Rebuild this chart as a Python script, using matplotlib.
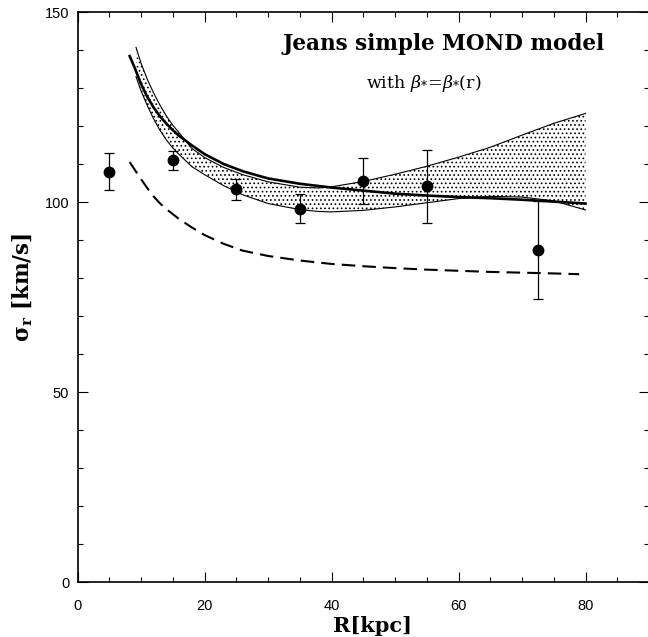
import numpy as np
import matplotlib
matplotlib.use("Agg")
import matplotlib.pyplot as plt
from matplotlib.ticker import MultipleLocator

plt.rcParams["mathtext.fontset"] = "dejavuserif"
plt.rcParams["hatch.linewidth"] = 0.7

# observed velocity dispersion profile
R_obs = [5.0, 15.0, 25.0, 35.0, 45.0, 55.0, 72.5]
sig_obs = [108.0, 111.0, 103.3, 98.2, 105.6, 104.1, 87.4]
sig_err = [4.8, 2.5, 2.8, 3.8, 6.0, 9.5, 12.8]

# best Jeans model (thick solid)
R_model = [8.2, 9, 10, 11, 12, 13, 14, 15, 16, 18, 20, 23, 26, 30, 35, 40,
           45, 50, 55, 60, 65, 70, 75, 80]
sig_model = [138.4, 135.3, 131.0, 127.6, 124.8, 122.5, 120.6, 118.9, 117.4,
             114.9, 112.6, 110.0, 108.1, 106.2, 104.8, 103.8, 103.0, 102.2,
             101.7, 101.3, 101.0, 100.6, 100.1, 99.6]

# model uncertainty band
R_band = [9.2, 10, 11, 12, 13, 14, 15, 16, 18, 20, 23, 26, 30, 35, 38, 40,
          45, 50, 55, 60, 65, 70, 75, 80]
sig_hi = [140.7, 136.5, 132.2, 128.6, 125.4, 122.6, 120.2, 118.2, 114.1,
          111.7, 109.1, 107.2, 105.3, 103.9, 103.7, 104.0, 105.4, 107.3,
          109.4, 111.8, 114.4, 117.6, 120.7, 123.3]
sig_lo = [133.0, 129.2, 125.3, 121.8, 118.8, 116.3, 114.2, 112.5, 109.3,
          107.2, 104.3, 101.9, 99.6, 98.0, 97.5, 97.4, 97.8, 98.7, 99.8,
          100.9, 101.5, 101.3, 100.3, 97.9]

# newtonian (dashed)
R_newt = [8.2, 9, 10, 11, 12, 13, 14, 16, 18, 20, 23, 26, 30, 35, 40, 45,
          50, 55, 60, 65, 70, 75, 79]
sig_newt = [110.5, 108.5, 106.0, 103.6, 101.4, 99.6, 98.1, 95.5, 93.3, 91.3,
            89.0, 87.2, 85.8, 84.6, 83.7, 83.1, 82.6, 82.2, 81.9, 81.6, 81.4,
            81.2, 81.0]

fig = plt.figure(figsize=(6.48, 6.37), dpi=100)
ax = fig.add_axes([77.6 / 648, 55 / 637, 571.4 / 648, 570 / 637])

ax.fill_between(R_band, sig_lo, sig_hi, facecolor="none", edgecolor="k",
                hatch="....", linewidth=0)
ax.plot(R_band, sig_hi, color="k", lw=0.8)
ax.plot(R_band, sig_lo, color="k", lw=0.8)
ax.plot(R_model, sig_model, color="k", lw=1.9)
ax.plot(R_newt, sig_newt, color="k", lw=1.5, dashes=(6.5, 3.4))
ax.errorbar(R_obs, sig_obs, yerr=sig_err, fmt="o", color="k", ms=7.5,
            elinewidth=0.9, capsize=3.8, capthick=0.9)

ax.set_xlim(0, 90)
ax.set_ylim(0, 150)
ax.xaxis.set_major_locator(MultipleLocator(20))
ax.xaxis.set_minor_locator(MultipleLocator(5))
ax.yaxis.set_major_locator(MultipleLocator(50))
ax.yaxis.set_minor_locator(MultipleLocator(10))
ax.tick_params(which="both", direction="in", top=True, right=True, width=0.8,
               labelsize=10.5, labelfontfamily="Liberation Sans")
ax.tick_params(which="major", length=7)
ax.tick_params(which="minor", length=3.6)
ax.tick_params(axis="x", pad=12)
ax.tick_params(axis="y", pad=6)
for sp in ax.spines.values():
    sp.set_linewidth(1.2)

ax.text(0.641, 0.933, "Jeans simple MOND model", transform=ax.transAxes,
        ha="center", va="baseline", family="DejaVu Serif", weight="bold",
        fontsize=15.5)
ax.text(0.606, 0.867, r"with $\beta_{*}\!=\!\beta_{*}$(r)",
        transform=ax.transAxes, ha="center", va="baseline",
        family="DejaVu Serif", fontsize=12.5)

fig.text(372 / 648, 5 / 637, "R[kpc]", ha="center", va="baseline",
         family="DejaVu Serif", weight="bold", fontsize=15)
fig.text(23 / 648, 1 - 287 / 637, r"$\mathbf{\sigma_r}$ [km/s]",
         rotation=90, ha="center", va="center", family="DejaVu Serif",
         weight="bold", fontsize=15.5)

fig.savefig("out.png", dpi=100)
